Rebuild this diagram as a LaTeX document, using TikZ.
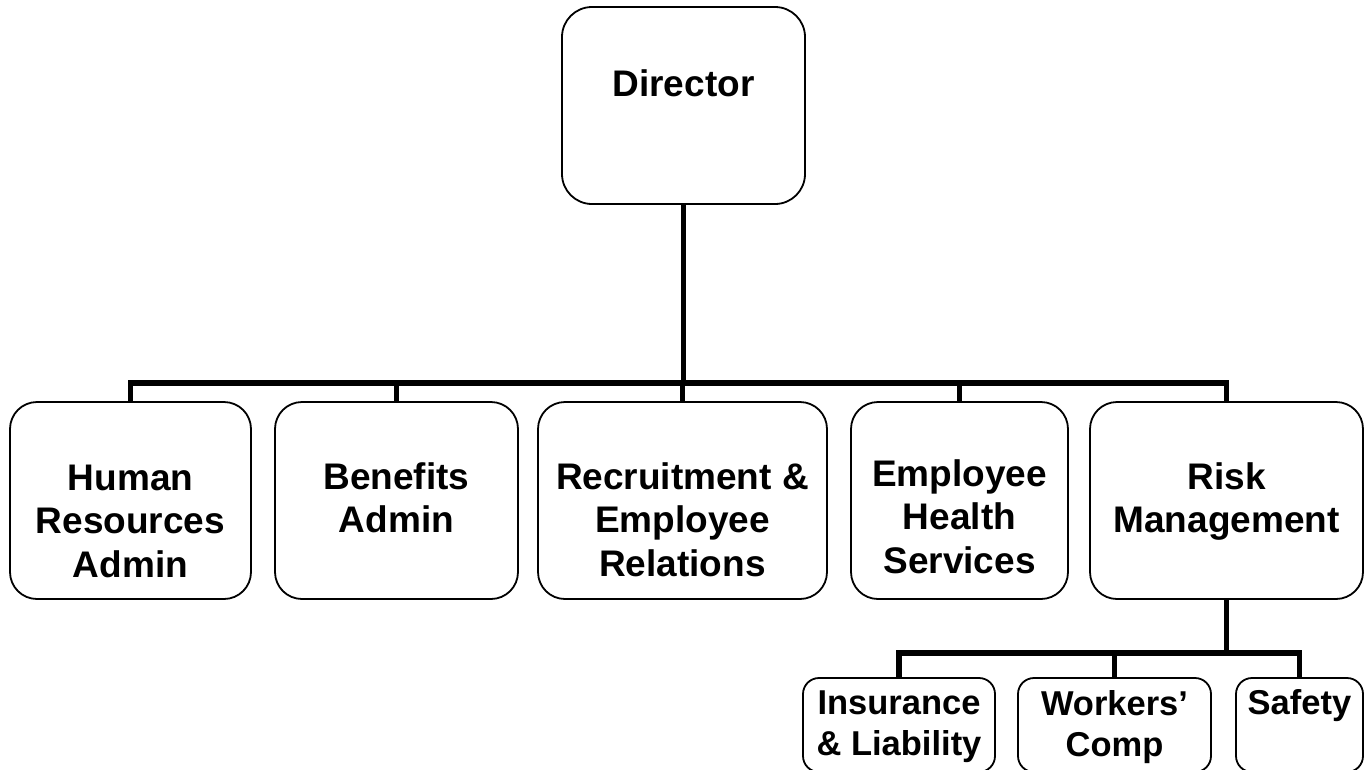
\documentclass[tikz,border=0pt]{standalone}
\usepackage{fontspec}
\setmainfont{Liberation Sans}
\usetikzlibrary{calc}
\begin{document}
\begin{tikzpicture}[x=1pt,y=-1pt,
  unitbox/.style={draw, line width=1.8pt, rounded corners=#1, inner sep=0pt},
  % anchor=base sits on the last line of a multi-line label
  unitname/.style={anchor=base, align=center, inner sep=0pt,
    font=\fontsize{37}{43.5}\selectfont\bfseries},
  subname/.style={anchor=base, align=center, inner sep=0pt,
    font=\fontsize{34.5}{41}\selectfont\bfseries},
  link/.style={line width=5.5pt, line join=miter}]
\useasboundingbox (0,0) rectangle (1369,769);

% top level
\node[unitbox=30pt, minimum width=243pt, minimum height=197pt] (dir) at (683.5,105.5) {};
\node[unitname] (dirT) at ($(dir.north)+(0,90)$) {Director};

% departments
\node[unitbox=27pt, minimum width=241pt, minimum height=197pt] (hr) at (130.5,500.5) {};
\node[unitbox=27pt, minimum width=243pt, minimum height=197pt] (ben) at (396.5,500.5) {};
\node[unitbox=27pt, minimum width=289pt, minimum height=197pt] (rec) at (682.5,500.5) {};
\node[unitbox=27pt, minimum width=217pt, minimum height=197pt] (ehs) at (959.5,500.5) {};
\node[unitbox=27pt, minimum width=273pt, minimum height=197pt] (risk) at (1226.5,500.5) {};

\node[unitname] (hrT) at ($(hr.north)+(0,176)$) {Human\\Resources\\Admin};
\node[unitname] (benT) at ($(ben.north)+(0,131.5)$) {Benefits\\Admin};
\node[unitname] (recT) at ($(rec.north)+(0,175)$) {Recruitment \&\\Employee\\Relations};
\node[unitname] (ehsT) at ($(ehs.north)+(0,172)$) {Employee\\Health\\Services};
\node[unitname] (riskT) at ($(risk.north)+(0,131.5)$) {Risk\\Management};

% risk management sections
\node[unitbox=16pt, minimum width=192pt, minimum height=94pt] (ins) at (899,725) {};
\node[unitbox=16pt, minimum width=193pt, minimum height=94pt] (wc) at (1114.5,725) {};
\node[unitbox=16pt, minimum width=127pt, minimum height=94pt] (saf) at (1299.5,725) {};

\node[subname] (insT) at ($(ins.north)+(0,78)$) {Insurance\\\& Liability};
\node[subname] (wcT) at ($(wc.north)+(0,79)$) {Workers’\\Comp};
\node[subname] (safT) at ($(saf.north)+(0,37)$) {Safety};

% connectors
\coordinate (hub) at (683.5,383);
\coordinate (rhub) at (1226.5,653);
\draw[link] (dir.south) -- (hub);
\foreach \n in {hr,ben,rec,ehs,risk} \draw[link] (\n.north) |- (hub);
\draw[link] (risk.south) -- (rhub);
\foreach \n in {ins,wc,saf} \draw[link] (\n.north) |- (rhub);
\end{tikzpicture}
\end{document}
